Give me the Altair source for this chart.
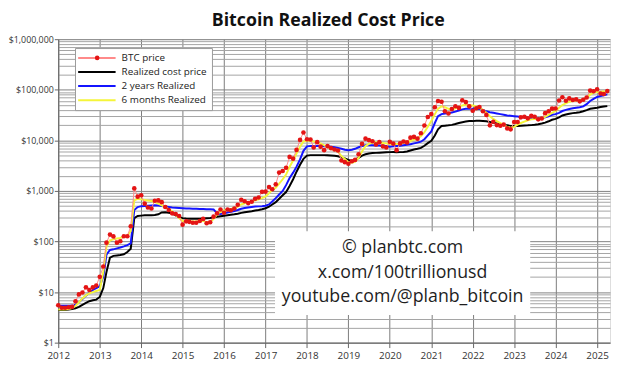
import altair as alt
import pandas as pd

# ---------------- data (monthly, Jan 2012 .. Apr 2025) ----------------
series_names = ["BTC price", "Realized cost price", "2 years Realized", "6 months Realized"]
series_colors = ["#ff8a8a", "#000000", "#1414ff", "#f5f53a"]

btc_price = [
    5.5, 4.9, 4.9, 5.0, 5.1, 6.6, 9.0, 9.8, 12.4, 11.0, 12.4, 13.5,
    20, 32, 95, 137, 126, 95, 101, 127, 127, 200, 1120, 770,
    820, 560, 470, 450, 640, 650, 600, 480, 420, 360, 350, 320,
    215, 250, 245, 235, 235, 255, 280, 230, 240, 310, 360, 430,
    370, 430, 415, 450, 530, 670, 625, 575, 610, 700, 740, 960,
    970, 1190, 1080, 1350, 2300, 2480, 2870, 4700, 4340, 6470, 10200, 14300,
    10500, 10400, 7200, 9200, 7500, 6400, 7700, 7000, 6600, 6300, 4000, 3700,
    3450, 3850, 4100, 5300, 8500, 10800, 10100, 9600, 8300, 9200, 7600, 7200,
    9350, 8600, 6400, 8700, 9500, 9100, 11300, 11700, 10800, 13800, 19700, 29000,
    33100, 45200, 60000, 58000, 37500, 34000, 41500, 47100, 43800, 62000, 57000, 47000,
    38500, 43200, 45500, 37700, 31800, 19800, 23300, 20000, 19400, 20500, 17200, 16500,
    23100, 23100, 28500, 29300, 27200, 30500, 29200, 26000, 27000, 34500, 37700, 42300,
    42600, 61200, 71300, 60700, 67500, 62700, 64600, 59000, 63300, 70200, 96400, 93400,
    102400, 84400, 82500, 94200,
]

realized_price = [
    4.4, 4.4, 4.4, 4.5, 4.6, 4.8, 5.1, 5.6, 6.1, 6.6, 6.9, 7.1,
    8, 12, 25, 48, 52, 53, 54, 56, 62, 72, 290, 320,
    325, 330, 330, 330, 335, 345, 375, 380, 370, 355, 330, 305,
    290, 285, 283, 282, 282, 283, 285, 288, 292, 300, 308, 315,
    322, 330, 338, 345, 355, 368, 378, 388, 398, 410, 420, 435,
    455, 490, 540, 600, 700, 820, 950, 1250, 1700, 2400, 3300, 4300,
    5000, 5100, 5100, 5100, 5100, 5100, 5050, 5000, 4950, 4850, 4600, 4400,
    4100, 3900, 4100, 4500, 5000, 5300, 5500, 5600, 5650, 5700, 5750, 5800,
    5850, 5900, 5800, 5850, 5900, 6000, 6300, 6600, 6800, 7100, 7800, 8800,
    9800, 12500, 16500, 19200, 19500, 19800, 20200, 21000, 22000, 22800, 23500, 24000,
    24000, 24300, 24500, 24200, 23800, 23000, 22300, 21500, 20800, 20200, 19800, 19300,
    19200, 19300, 19500, 19700, 19800, 20000, 20300, 20800, 21500, 22400, 23800, 25500,
    26500, 28500, 31000, 32500, 33500, 34500, 35000, 36000, 37500, 39500, 42000, 43000,
    44000, 45500, 46500, 47500,
]

two_year_realized = [
    5.4, 5.4, 5.4, 5.4, 5.4, 5.6, 6.3, 7.3, 8.5, 9.7, 11, 12,
    13, 20, 55, 68, 70, 73, 76, 80, 85, 92, 420, 480,
    500, 505, 510, 515, 520, 515, 500, 490, 480, 470, 465, 460,
    455, 450, 448, 445, 442, 440, 437, 435, 432, 430, 360, 350,
    360, 375, 385, 400, 420, 445, 460, 470, 480, 490, 495, 500,
    510, 540, 620, 720, 850, 1000, 1300, 1800, 2300, 3000, 4200, 6200,
    7600, 7700, 7700, 7700, 7700, 7650, 7600, 7500, 7300, 7100, 6800, 6500,
    6400, 6500, 6800, 7300, 7700, 8000, 8000, 8000, 7900, 7900, 7800, 7700,
    7500, 7600, 7700, 7800, 8000, 8200, 8400, 8700, 9000, 9400, 10500, 12500,
    15000, 22000, 30000, 33000, 34000, 34500, 35500, 37000, 39000, 41000, 42000, 42000,
    42000, 42000, 41500, 40000, 37500, 36000, 35000, 34000, 33000, 32000, 31000, 30500,
    30000, 29500, 29000, 28500, 28000, 27500, 27000, 27000, 27500, 28500, 30000, 32000,
    33000, 35000, 38000, 40000, 41500, 43000, 44000, 45000, 47000, 52000, 60000, 66000,
    72000, 75000, 78000, 81000,
]

six_month_realized = [
    4.5, 4.5, 4.5, 4.6, 4.8, 5.3, 6.3, 7.5, 8.6, 9.5, 10, 10.5,
    11, 25, 80, 105, 110, 115, 118, 125, 130, 160, 650, 700,
    680, 660, 645, 630, 600, 560, 520, 480, 440, 390, 340, 290,
    255, 250, 250, 250, 250, 252, 255, 240, 240, 280, 345, 385,
    410, 430, 440, 460, 490, 540, 570, 600, 620, 650, 680, 720,
    780, 900, 1050, 1150, 1400, 1700, 2100, 3000, 4000, 5500, 7500, 9500,
    9800, 9800, 9500, 9000, 8700, 8000, 7300, 6800, 6400, 6000, 4900, 4300,
    3700, 3600, 3800, 4500, 6000, 7700, 8500, 9000, 9200, 9100, 8900, 8700,
    8400, 8600, 8500, 8600, 8900, 9300, 9700, 10300, 11000, 12000, 14500, 18500,
    24000, 33000, 42000, 47000, 45000, 42000, 41000, 43000, 46000, 49000, 51000, 50000,
    49000, 47000, 44000, 40000, 35000, 30000, 26500, 24000, 22000, 20000, 18500, 17700,
    18500, 20500, 22000, 23500, 25000, 26000, 26500, 26500, 27000, 29000, 32000, 35000,
    38000, 44000, 50000, 54000, 58000, 60000, 61000, 62000, 64000, 70000, 80000, 88000,
    90000, 91000, 92000, 95000,
]

year_ticks = list(range(2012, 2026))
decades = [1, 10, 100, 1000, 10000, 100000, 1000000]
watermark_lines = ["© planbtc.com", "x.com/100trillionusd", "youtube.com/@planb_bitcoin"]

# ---------------- tables ----------------
dates = pd.date_range("2012-01-01", periods=len(btc_price), freq="MS")
price_df = pd.DataFrame({"date": dates, "value": btc_price, "series": series_names[0]})
lines_df = pd.concat([
    pd.DataFrame({"date": dates, "value": vals, "series": name})
    for name, vals in zip(series_names[1:], [realized_price, two_year_realized, six_month_realized])
])

FONT = "Open Sans"
y_values = [m * d for d in decades[:-1] for m in range(1, 10)] + [decades[-1]]
is_decade = "indexof([" + ",".join(str(d) for d in decades) + "], datum.value) >= 0"

x_enc = alt.X(
    "date:T",
    title=None,
    scale=alt.Scale(domain=[alt.DateTime(year=2012, month=1, date=1),
                            alt.DateTime(year=2025, month=4, date=25)], nice=False),
    axis=alt.Axis(
        values=[alt.DateTime(year=y, month=1, date=1) for y in year_ticks],
        format="%Y", labelFlush=False, labelOverlap=False,
        labelFont=FONT, labelFontSize=10, labelColor="#333333", labelPadding=3,
        tickSize=5, tickColor="#666666", domainColor="#666666",
        gridColor="#7c7c7c", gridWidth=1,
    ),
)
y_enc = alt.Y(
    "value:Q",
    title=None,
    scale=alt.Scale(type="log", domain=[1, 1000000], nice=False),
    axis=alt.Axis(
        values=y_values,
        labelExpr=f"{is_decade} ? '$' + format(datum.value, ',') : ''",
        labelOverlap=False, labelFont=FONT, labelFontSize=9, labelColor="#333333",
        labelPadding=1, tickSize=4, tickColor="#666666", domainColor="#666666",
        tickOpacity={"condition": {"test": is_decade, "value": 1}, "value": 0},
        gridColor={"condition": {"test": is_decade, "value": "#808080"}, "value": "#a4a4a4"},
        gridWidth=1,
    ),
)

LINE_PATH = "M-1.7,0H7.8"

color_enc = alt.Color(
    "series:N",
    scale=alt.Scale(domain=series_names, range=series_colors),
    legend=alt.Legend(
        title=None, orient="none", legendX=17, legendY=9,
        fillColor="white", strokeColor="#999999", padding=5, rowPadding=4.3,
        labelFont=FONT, labelFontSize=10, labelColor="#222222", labelOffset=32.3,
        symbolSize=64, symbolStrokeWidth=2, symbolType=LINE_PATH, zindex=0,
    ),
)

# second legend: the red dot that sits on the "BTC price" legend line
dot_fill = alt.Fill(
    "series:N",
    scale=alt.Scale(domain=[series_names[0]], range=["#e41414"]),
    legend=alt.Legend(
        title=None, orient="none", legendX=37, legendY=16.5,
        padding=0, labelExpr="''", labelFontSize=4, labelOffset=0,
        symbolType="circle", symbolSize=22, symbolStrokeWidth=0,
        symbolOpacity=1, zindex=1,
    ),
)

layers = []
for name in series_names[1:]:
    layers.append(
        alt.Chart(lines_df).transform_filter(alt.datum.series == name)
        .mark_line(strokeWidth=2)
        .encode(x=x_enc, y=y_enc, color=color_enc)
    )
layers.append(
    alt.Chart(price_df).mark_line(strokeWidth=1).encode(x=x_enc, y=y_enc, color=color_enc)
)
layers.append(
    alt.Chart(price_df).mark_circle(size=22, opacity=1)
    .encode(x=x_enc, y=y_enc, fill=dot_fill)
)

# watermark box
blank = alt.Data(values=[{}])
layers.append(
    alt.Chart(blank).mark_rect(color="white").encode(
        x=alt.value(220), x2=alt.value(479), y=alt.value(195), y2=alt.value(280)
    )
)
for i, line in enumerate(watermark_lines):
    layers.append(
        alt.Chart(blank).mark_text(font=FONT, fontSize=18, color="#1e1e1e",
                                   align="center", baseline="middle")
        .encode(x=alt.value(349.5), y=alt.value(212 + 25 * i), text=alt.value(line))
    )

chart = (
    alt.layer(*layers)
    .properties(
        width=560, height=308,
        title=alt.TitleParams("Bitcoin Realized Cost Price", font=FONT, fontSize=18,
                              fontWeight="bold", color="#111111", anchor="middle",
                              dx=-6, offset=5),
        padding={"left": 0, "top": 2, "right": 0, "bottom": 0},
    )
    .configure_view(fill="#c3c3c3", stroke="#888888")
    .configure(background="white")
)

chart.save("out.html", embed_options={"renderer": "svg", "actions": False})
